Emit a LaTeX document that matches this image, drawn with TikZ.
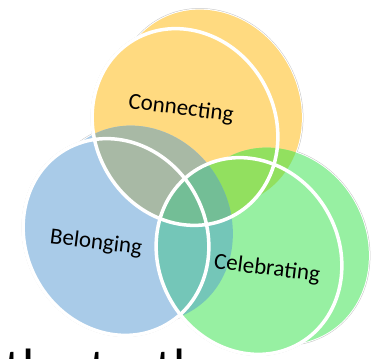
\documentclass[tikz,border=0pt]{standalone}
\usepackage{fontspec}
\setmainfont{Carlito}
\definecolor{yel}{RGB}{255,218,128}
\definecolor{blu}{RGB}{169,203,232}
\definecolor{grn}{RGB}{151,240,162}
\definecolor{yb}{RGB}{168,185,165}
\definecolor{yg}{RGB}{146,224,95}
\definecolor{bg}{RGB}{116,198,184}
\definecolor{ybg}{RGB}{115,190,150}
\tikzset{
  outl/.style={draw=gray!45, line width=3pt},
  outw/.style={draw=white, line width=2pt},
  ring/.style={draw=white, line width=3.5pt},
  lbl/.style={font=\fontsize{23}{26}\selectfont, inner sep=0pt, rotate=-7},
}
\begin{document}
\begin{tikzpicture}[x=1pt,y=-1pt]
\def\shp{circle[x radius=90, y radius=101, rotate=30]}
\def\Yring{(185,127) \shp}
\def\Yfill{(209,108) \shp}
\def\Bring{(116,237) \shp}
\def\Bfill{(140,224) \shp}
\def\Gring{(249,256) \shp}
\def\Gfill{(276,246) \shp}
\useasboundingbox (0,0) rectangle (381,359);
\clip (0,0) rectangle (381,359);
% outer outlines
\draw[outl] \Yfill \Yring \Bfill \Bring \Gfill \Gring;
\draw[outw] \Yfill \Yring \Bfill \Bring \Gfill \Gring;
% fills
\fill[yel] \Yfill \Yring;
\fill[blu] \Bfill \Bring;
\fill[grn] \Gfill \Gring;
\begin{scope}
  \clip \Yfill \Yring;
  \fill[yb] \Bfill \Bring;
  \fill[yg] \Gfill \Gring;
\end{scope}
\begin{scope}
  \clip \Bfill \Bring;
  \fill[bg] \Gfill \Gring;
\end{scope}
\begin{scope}
  \clip \Yfill \Yring;
  \clip \Bfill \Bring;
  \fill[ybg] \Gfill \Gring;
\end{scope}
% white rings
\draw[ring] \Yring;
\draw[ring] \Bring;
\draw[ring] \Gring;
% labels
\node[lbl] (conn) at (181,109) {Connecting};
\node[lbl] (bel) at (96,243) {Belonging};
\node[lbl] (cel) at (267,269) {Celebrating};
\node[anchor=base west, inner sep=0pt, font=\fontsize{54}{60}\selectfont] (bottom) at (4,386) {the truth};
\end{tikzpicture}
\end{document}
